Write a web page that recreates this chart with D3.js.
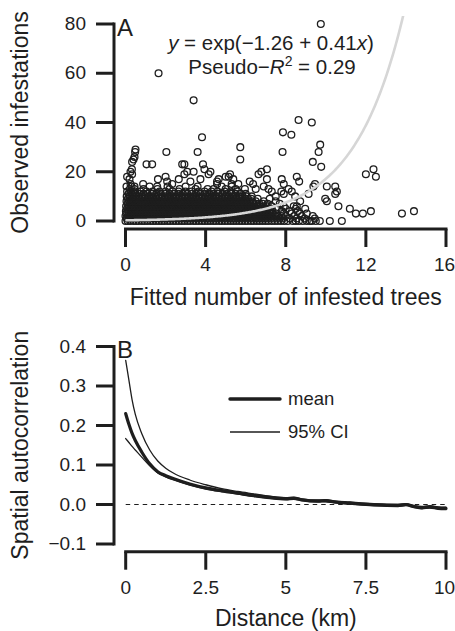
<!DOCTYPE html>
<html>
<head>
<meta charset="utf-8">
<script src="https://cdn.jsdelivr.net/npm/d3@7"></script>
<style>
  html, body { margin: 0; padding: 0; background: #fff; }
  svg { display: block; }
</style>
</head>
<body>
<svg id="chart" width="455" height="631"></svg>
<script>
// ---------- Panel A: observed vs fitted infestations ----------
const topXTicks = [0, 4, 8, 12, 16];
const topYTicks = [0, 20, 40, 60, 80];
const fitCoef = [-1.26, 0.41];       // intercept, slope of the exponential fit
const pseudoR2 = 0.29;

// Dense core of the cloud: coreFitted[k] holds fitted values of sites with k observed infestations
const coreFitted = [
  [0,0.11,0.24,0.4,0.53,0.66,0.82,0.95,1.09,1.25,1.38,1.52,1.67,1.81,1.94,2.1,2.23,2.38,2.52,2.66,2.81,2.95,3.1,3.23,3.39,3.52,3.66,3.82,3.96,4.1,4.24,4.39,4.52,4.68,4.81,4.96,5.1,5.25,5.39,5.53,5.68,5.82,5.97,6.1,6.26,6.4,6.55,6.69,6.84,6.99,7.13,7.3,7.45,7.6,7.76,7.92,8.1,8.35,8.5,8.66,8.85,9.05,9.2,9.3,9.5,9.7,10.2,10.8],
  [0.06,0.18,0.33,0.47,0.6,0.75,0.89,1.03,1.17,1.32,1.45,1.6,1.74,1.88,2.03,2.17,2.31,2.45,2.6,2.74,2.88,3.03,3.17,3.31,3.46,3.6,3.74,3.89,4.03,4.17,4.32,4.46,4.6,4.75,4.89,5.03,5.18,5.32,5.46,5.61,5.75,5.89,6.04,6.18,6.33,6.48,6.62,6.77,6.92,7.07,7.22,7.38,7.54,7.7,7.86,8.2,8.55,8.95,9.45],
  [0,0.13,0.26,0.4,0.54,0.68,0.82,0.96,1.1,1.24,1.39,1.53,1.67,1.81,1.96,2.1,2.24,2.38,2.53,2.67,2.81,2.95,3.1,3.24,3.38,3.53,3.67,3.81,3.96,4.1,4.24,4.39,4.53,4.67,4.82,4.96,5.1,5.25,5.39,5.53,5.68,5.82,5.96,6.11,6.25,6.4,6.55,6.7,6.85,7.0,7.15,7.3,7.46,7.62,7.8,8.0,8.42,8.8,9.35],
  [0.04,0.17,0.31,0.45,0.59,0.73,0.87,1.02,1.16,1.3,1.44,1.59,1.73,1.87,2.01,2.16,2.3,2.44,2.58,2.73,2.87,3.01,3.15,3.3,3.44,3.58,3.73,3.87,4.01,4.16,4.3,4.44,4.59,4.73,4.87,5.02,5.16,5.3,5.45,5.59,5.73,5.88,6.02,6.17,6.31,6.46,6.6,6.75,6.9,7.05,7.2,7.36,7.52,7.9,8.3,8.7],
  [0.02,0.14,0.28,0.42,0.56,0.7,0.84,0.99,1.13,1.27,1.41,1.56,1.7,1.84,1.98,2.13,2.27,2.41,2.55,2.7,2.84,2.98,3.12,3.27,3.41,3.55,3.7,3.84,3.98,4.13,4.27,4.41,4.56,4.7,4.84,4.99,5.13,5.27,5.42,5.56,5.7,5.85,5.99,6.14,6.28,6.43,6.58,6.73,6.88,7.03,7.18,7.34,7.8,8.2,8.6],
  [0.08,0.21,0.35,0.49,0.63,0.77,0.91,1.05,1.2,1.34,1.48,1.62,1.77,1.91,2.05,2.19,2.34,2.48,2.62,2.76,2.91,3.05,3.19,3.33,3.48,3.62,3.76,3.91,4.05,4.19,4.34,4.48,4.62,4.77,4.91,5.05,5.2,5.34,5.48,5.63,5.77,5.91,6.06,6.2,6.35,6.5,6.65,6.8,6.95,7.1,7.25,7.55,8.0,8.5],
  [0.03,0.16,0.3,0.44,0.58,0.72,0.86,1.0,1.15,1.29,1.43,1.57,1.72,1.86,2.0,2.14,2.29,2.43,2.57,2.71,2.86,3.0,3.14,3.28,3.43,3.57,3.71,3.86,4.0,4.14,4.29,4.43,4.57,4.72,4.86,5.0,5.15,5.29,5.43,5.58,5.72,5.86,6.01,6.15,6.3,6.45,6.6,6.75,6.9,7.05,7.3,7.9,8.4],
  [0.1,0.23,0.37,0.51,0.65,0.79,0.93,1.08,1.22,1.36,1.5,1.65,1.79,1.93,2.07,2.22,2.36,2.5,2.64,2.79,2.93,3.07,3.21,3.36,3.5,3.64,3.79,3.93,4.07,4.22,4.36,4.5,4.65,4.79,4.93,5.08,5.22,5.36,5.51,5.65,5.79,5.94,6.08,6.23,6.38,6.53,6.68,6.85,7.1,7.7],
  [0.05,0.18,0.32,0.46,0.6,0.74,0.88,1.03,1.17,1.31,1.45,1.6,1.74,1.88,2.02,2.17,2.31,2.45,2.59,2.74,2.88,3.02,3.16,3.31,3.45,3.59,3.74,3.88,4.02,4.17,4.31,4.45,4.6,4.74,4.88,5.03,5.17,5.31,5.46,5.6,5.74,5.89,6.03,6.18,6.33,6.5,6.9,7.5],
  [0.12,0.26,0.4,0.54,0.68,0.82,0.97,1.11,1.25,1.39,1.54,1.68,1.82,1.96,2.11,2.25,2.39,2.53,2.68,2.82,2.96,3.1,3.25,3.39,3.53,3.68,3.82,3.96,4.11,4.25,4.39,4.54,4.68,4.82,4.97,5.11,5.25,5.4,5.54,5.68,5.83,5.97,6.12,6.28,6.6,7.2],
  [0.06,0.2,0.36,0.52,0.68,0.84,1.0,1.17,1.33,1.5,1.66,1.83,2.0,2.16,2.33,2.5,2.66,2.83,3.0,3.16,3.33,3.5,3.66,3.83,4.0,4.16,4.33,4.5,4.66,4.83,5.0,5.16,5.33,5.5,5.66,5.85,6.05,6.3],
  [0.15,0.32,0.5,0.7,0.9,1.1,1.32,1.54,1.76,1.98,2.2,2.42,2.64,2.86,3.08,3.3,3.52,3.74,3.96,4.18,4.4,4.62,4.84,5.06,5.28,5.5,5.75,6.0],
  [0.08,0.28,0.48,0.75,1.05,1.35,1.7,2.0,2.35,2.65,3.0,3.3,3.65,3.95,4.3,4.6,4.95,5.25,5.6],
  [0.22,0.45,0.9,1.6,2.2,2.7,3.5,4.1,4.4,5.0,5.5],
  [0.3,0.45,1.2,2.1,3.0,3.6,4.8,5.3]
];

// Scattered sites away from the core
const outlierFitted = [
  9.75,1.65,3.4,8.64,9.3,7.86,8.28,3.82,5.73,9.72,0.5,0.48,2.04,3.6,7.84,9.64,0.45,5.73,0.4,0.33,
  9.35,1.05,1.33,2.83,2.94,3.87,9.77,3.94,7.06,0.32,3.08,3.4,0.25,0.33,2.94,4.15,4.24,12.0,12.38,12.5,
  2.0,5.15,5.0,0.08,0.2,4.65,3.74,1.62,2.66,6.64,6.78,8.55,8.67,7.8,7.9,7.06,5.22,5.38,0.88,2.08,
  3.24,4.57,6.2,2.33,0.25,4.57,5.3,6.37,9.46,1.58,0.05,5.63,7.14,9.38,10.05,10.47,8.14,10.55,8.3,7.3,
  7.78,5.96,7.9,9.14,10.47,8.47,9.97,10.05,8.72,8.55,10.63,8.97,9.05,11.2,11.5,11.85,12.25,13.8,14.4,6.9,
  6.5,7.5
];
const outlierObserved = [
  80,60,49,41,40,36,35,34,30,31,29,28,28,28,28,28,26,25,25,24,
  24,23,23,23,23,23,22,21,21,21,20,20,20,19,19,19,20,19,21,18,
  18,18,18,18,17,17,17,17,17,19,20,18,16,17,15,17,19,17,15,16,
  16,16,16,15,15,15,15,15,15,14,14,15,13,14,14,14,13,12,12,12,
  12,13,11,11,11,10,9,8,8,6,6,5,3,5,3,3,4,3,4,14,
  13,10
];

// ---------- Panel B: spatial autocorrelation vs distance ----------
const distance = [0,0.1,0.2,0.3,0.5,0.75,1,1.25,1.5,2,2.5,3,3.5,4,4.5,5,5.25,5.5,6,6.25,6.5,7,7.5,8,8.5,8.75,9,9.25,9.5,9.75,10];
const acMean  = [0.23,0.203,0.18,0.162,0.133,0.103,0.083,0.073,0.065,0.052,0.042,0.035,0.029,0.023,0.018,0.015,0.016,0.012,0.009,0.010,0.007,0.004,0.001,-0.001,-0.002,0.0,-0.005,-0.008,-0.006,-0.009,-0.010];
const acLower = [0.167,0.157,0.147,0.138,0.12,0.098,0.08,0.07,0.062,0.049,0.039,0.032,0.026,0.02,0.015,0.012,0.013,0.009,0.006,0.007,0.004,0.001,-0.002,-0.004,-0.005,-0.003,-0.008,-0.011,-0.009,-0.012,-0.013];
const acUpper = [0.365,0.315,0.265,0.228,0.18,0.138,0.11,0.092,0.079,0.062,0.05,0.04,0.033,0.027,0.021,0.017,0.018,0.014,0.011,0.012,0.009,0.006,0.003,0.001,0.0,0.002,-0.003,-0.005,-0.003,-0.006,-0.007];
const botXTicks = [0, 2.5, 5, 7.5, 10];
const botYTicks = [-0.1, 0, 0.1, 0.2, 0.3, 0.4];
const legendLabels = ["mean", "95% CI"];

// ---------- drawing ----------
const FONT = '"Liberation Sans", Arial, Helvetica, sans-serif';
const INK = "#1e1e1e";
const svg = d3.select("#chart");

const xTop = d3.scaleLinear().domain([0, 16]).range([125.5, 446]);
const yTop = d3.scaleLinear().domain([0, 80]).range([221, 24]);
const xBot = d3.scaleLinear().domain([0, 10]).range([125.7, 446]);
const yBot = d3.scaleLinear().domain([-0.1, 0.4]).range([544, 346.5]);

function leftAxis(x0, scale, ticks, fmt) {
  const g = svg.append("g").attr("transform", `translate(${x0},0)`)
    .call(d3.axisLeft(scale).tickValues(ticks).tickFormat(fmt)
      .tickSize(18).tickPadding(10).tickSizeOuter(0).offset(0));
  g.select(".domain").remove();
  g.selectAll(".tick line").attr("stroke", INK).attr("stroke-width", 3);
  g.selectAll(".tick text").attr("font-size", 19).attr("font-family", FONT).attr("fill", INK);
  g.append("line")
    .attr("y1", scale(ticks[0])).attr("y2", scale(ticks[ticks.length - 1]))
    .attr("stroke", INK).attr("stroke-width", 3).attr("stroke-linecap", "square");
}
function bottomAxis(y0, scale, ticks, fmt) {
  const g = svg.append("g").attr("transform", `translate(0,${y0})`)
    .call(d3.axisBottom(scale).tickValues(ticks).tickFormat(fmt)
      .tickSize(18).tickPadding(11).tickSizeOuter(0).offset(0));
  g.select(".domain").remove();
  g.selectAll(".tick line").attr("stroke", INK).attr("stroke-width", 3);
  g.selectAll(".tick text").attr("font-size", 19).attr("font-family", FONT).attr("fill", INK);
  // keep the right-most label inside the page edge
  g.selectAll(".tick text").filter((d, i, n) => i === n.length - 1).attr("dx", -1.5);
  g.append("line")
    .attr("x1", scale(ticks[0])).attr("x2", scale(ticks[ticks.length - 1]))
    .attr("stroke", INK).attr("stroke-width", 3).attr("stroke-linecap", "square");
}
function label(x, y, txt, size, opts = {}) {
  const t = svg.append("text").attr("x", x).attr("y", y)
    .attr("font-family", FONT).attr("font-size", size).attr("fill", INK)
    .attr("text-anchor", opts.anchor || "start").text(txt);
  if (opts.rotate) t.attr("transform", `rotate(-90,${x},${y})`);
  return t;
}

// Panel A ---------------------------------------------------------
const points = [];
coreFitted.forEach((row, k) => row.forEach(f => points.push([f, k])));
outlierFitted.forEach((f, i) => points.push([f, outlierObserved[i]]));

svg.append("g").selectAll("circle").data(points).join("circle")
  .attr("cx", d => xTop(d[0])).attr("cy", d => yTop(d[1])).attr("r", 3.4)
  .attr("fill", "none").attr("stroke", INK).attr("stroke-width", 1.3);

svg.append("clipPath").attr("id", "clipA").append("rect")
  .attr("x", 112).attr("y", 16).attr("width", 347).attr("height", 213);
const curveX = d3.range(0, 16.001, 0.05);
svg.append("path")
  .datum(curveX)
  .attr("clip-path", "url(#clipA)")
  .attr("fill", "none").attr("stroke", "#d6d6d6").attr("stroke-width", 2.6)
  .attr("d", d3.line().x(d => xTop(d)).y(d => yTop(Math.exp(fitCoef[0] + fitCoef[1] * d))));

leftAxis(114, yTop, topYTicks, d3.format("d"));
bottomAxis(229, xTop, topXTicks, d3.format("d"));

label(117, 36, "A", 24);
label(28, (yTop(0) + yTop(80)) / 2, "Observed infestations", 23, { anchor: "middle", rotate: true });
label((xTop(0) + xTop(16)) / 2, 305, "Fitted number of infested trees", 23, { anchor: "middle" });

const fmt2 = d3.format(".2f");
const eq = svg.append("text").attr("x", 271).attr("y", 50)
  .attr("font-family", FONT).attr("font-size", 20.5).attr("fill", INK).attr("text-anchor", "middle");
eq.append("tspan").attr("font-style", "italic").text("y");
eq.append("tspan").text(` = exp(${fmt2(fitCoef[0])} + ${fmt2(fitCoef[1])}`);
eq.append("tspan").attr("font-style", "italic").text("x");
eq.append("tspan").text(")");

const r2 = svg.append("text").attr("x", 272).attr("y", 74)
  .attr("font-family", FONT).attr("font-size", 20.5).attr("fill", INK).attr("text-anchor", "middle");
r2.append("tspan").text("Pseudo\u2212");
r2.append("tspan").attr("font-style", "italic").text("R");
r2.append("tspan").attr("font-size", 14).attr("dy", -8).text("2");
r2.append("tspan").attr("dy", 8).text(` = ${fmt2(pseudoR2)}`);

// Panel B ---------------------------------------------------------
svg.append("line")
  .attr("x1", xBot(0)).attr("x2", xBot(10)).attr("y1", yBot(0)).attr("y2", yBot(0))
  .attr("stroke", INK).attr("stroke-width", 1.2).attr("stroke-dasharray", "4.5,4");

const acLine = d3.line().curve(d3.curveMonotoneX).x(d => xBot(d[0])).y(d => yBot(d[1]));
const series = [
  { values: acUpper, width: 1.3 },
  { values: acLower, width: 1.3 },
  { values: acMean, width: 3.2 }
];
series.forEach(s => {
  svg.append("path").datum(distance.map((d, i) => [d, s.values[i]]))
    .attr("fill", "none").attr("stroke", INK).attr("stroke-width", s.width)
    .attr("stroke-linejoin", "round").attr("stroke-linecap", "round")
    .attr("d", acLine);
});

leftAxis(114, yBot, botYTicks, d3.format(".1f"));
bottomAxis(551.7, xBot, botXTicks, d => String(d));

label(117, 358, "B", 24);
label(28, (yBot(-0.1) + yBot(0.4)) / 2, "Spatial autocorrelation", 23, { anchor: "middle", rotate: true });
label((xBot(0) + xBot(10)) / 2, 626, "Distance (km)", 23, { anchor: "middle" });

// legend
const legend = svg.append("g");
[{ w: 3.4, y: 399 }, { w: 1.3, y: 432 }].forEach((it, i) => {
  legend.append("line").attr("x1", 230).attr("x2", 280).attr("y1", it.y).attr("y2", it.y)
    .attr("stroke", INK).attr("stroke-width", it.w).attr("stroke-linecap", i === 0 ? "round" : "butt");
  legend.append("text").attr("x", 288).attr("y", it.y + 6)
    .attr("font-family", FONT).attr("font-size", 18.5).attr("fill", INK).text(legendLabels[i]);
});
</script>
</body>
</html>
